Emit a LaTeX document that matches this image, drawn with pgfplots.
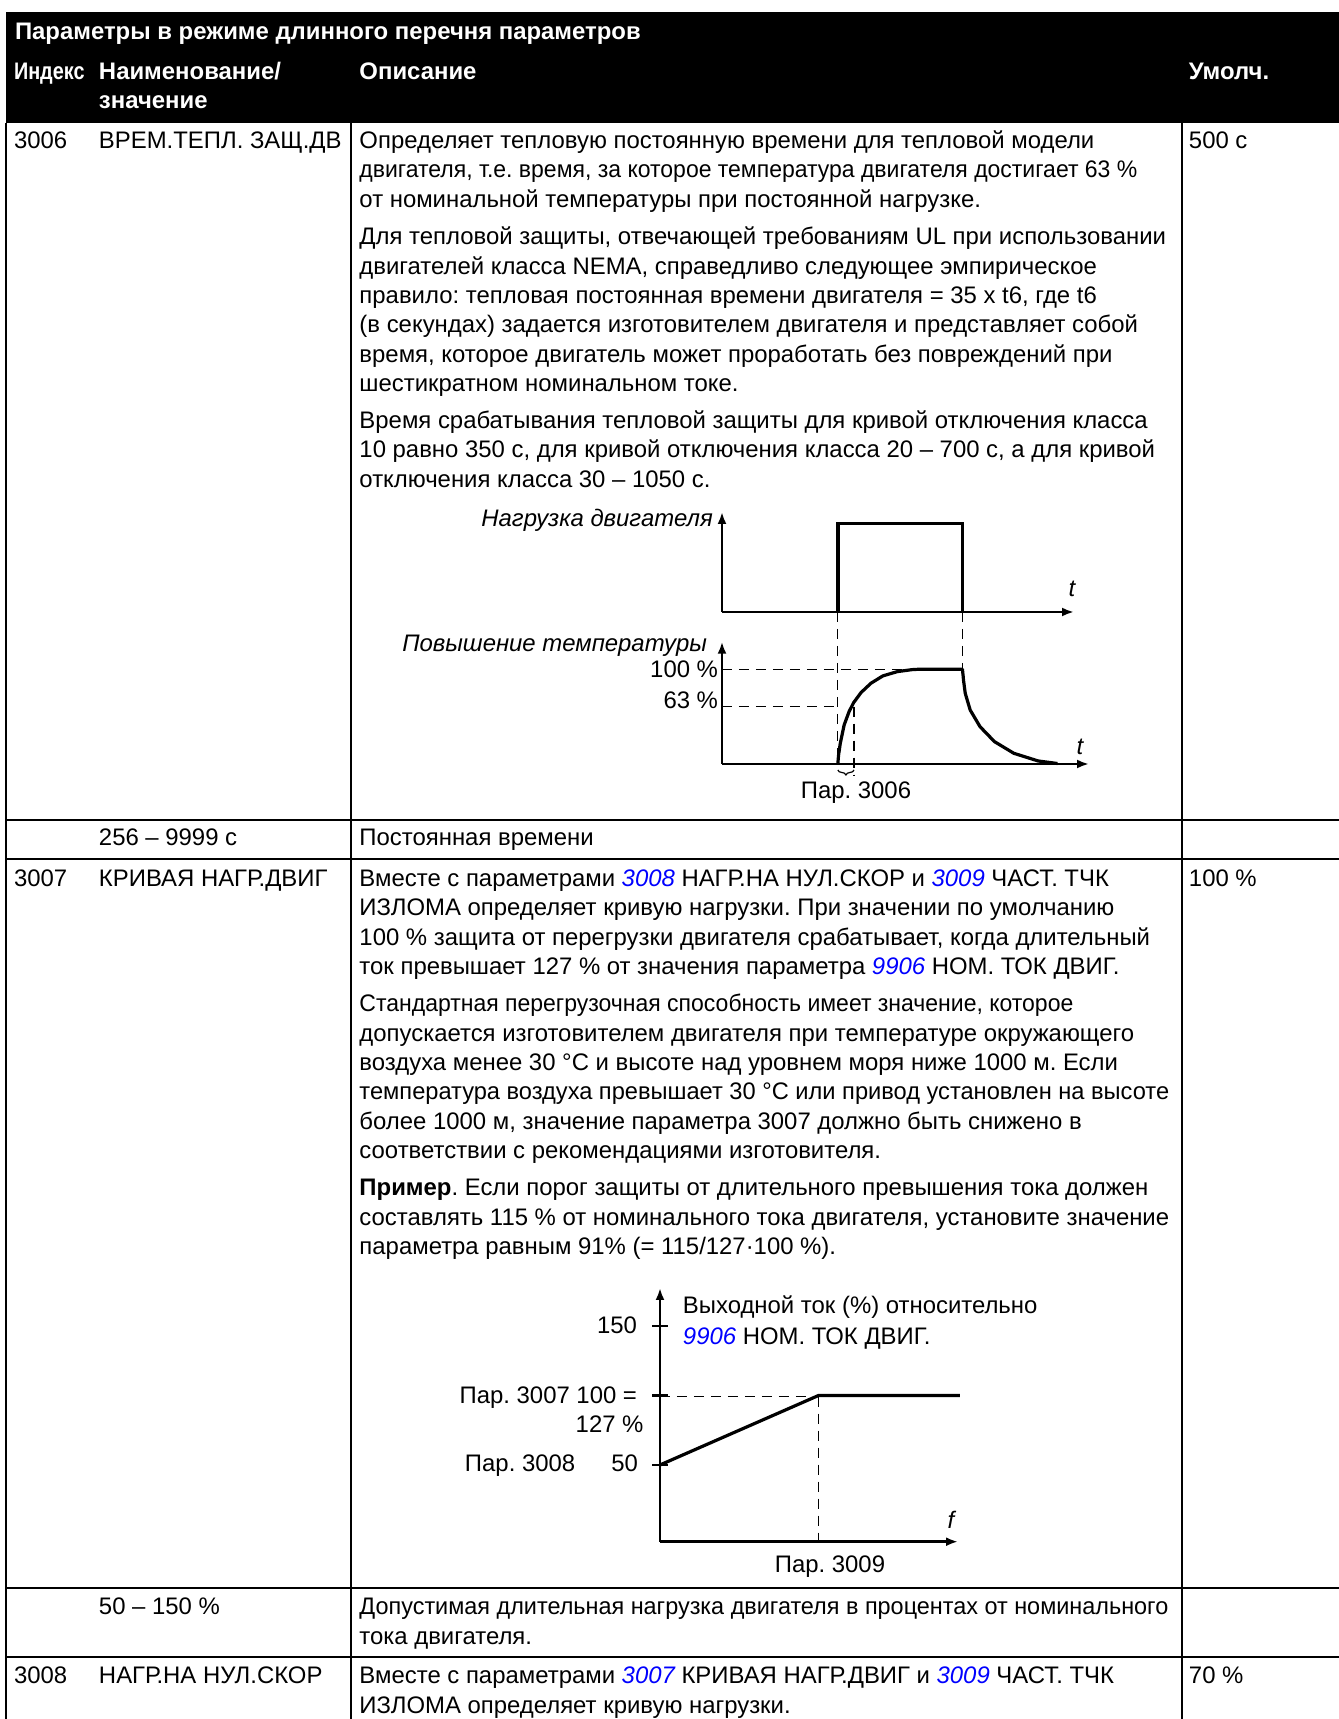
\documentclass[border=0pt]{standalone}
\usepackage{fontspec}
\setmainfont{Liberation Sans}
\usepackage{graphicx}
\usepackage{pgfplots}
\pgfplotsset{compat=1.18}
\usetikzlibrary{arrows.meta,decorations.pathreplacing}
\definecolor{lnk}{RGB}{0,0,255}
\newcommand{\lk}[1]{\textcolor{lnk}{\itshape #1}}
\newcommand{\F}{\fontsize{11.95bp}{14.3bp}\selectfont}
\tikzset{
 tx/.style={anchor=base west, inner sep=0pt, outer sep=0pt, font=\F},
 txr/.style={anchor=base east, inner sep=0pt, outer sep=0pt, font=\F},
 txc/.style={anchor=base, inner sep=0pt, outer sep=0pt, font=\F},
 px/.style={x=0.5bp, y=-0.5bp, yshift=859.5bp},
 dsh/.style={line width=0.6bp, dash pattern=on 5bp off 3.5bp},
 ar/.style={line width=1.2bp, -{Latex[length=6bp,width=4.5bp]}},
}
\begin{document}
\frenchspacing
\begin{tikzpicture}
\path[use as bounding box, fill=white] (0,0) rectangle (669.5bp,859.5bp);
\begin{scope}[px]
% header
\fill[black] (6,12) rectangle (1339,123);
\node[tx, text=white, font=\F\bfseries] at (15,40) {Параметры в режиме длинного перечня параметров};
\node[tx, text=white, font=\F\bfseries] at (14,80) {\scalebox{0.83}[1]{Индекс}};
\node[tx, text=white, font=\F\bfseries] at (99,80) {Наименование/};
\node[tx, text=white, font=\F\bfseries] at (99,109) {значение};
\node[tx, text=white, font=\F\bfseries] at (359.5,80) {Описание};
\node[tx, text=white, font=\F\bfseries] at (1189,80) {Умолч.};
% grid
\draw[line width=1bp] (6,123) -- (6,1719);
\draw[line width=1bp] (351.3,123) -- (351.3,1719);
\draw[line width=1bp] (1181.7,123) -- (1181.7,1719);
\draw[line width=1bp] (6,820) -- (1339,820);
\draw[line width=1bp] (6,859.5) -- (1339,859.5);
\draw[line width=1bp] (6,1588.3) -- (1339,1588.3);
\draw[line width=1bp] (6,1657.3) -- (1339,1657.3);
% row 3006
\node[tx] at (14,148.5) {3006};
\node[tx] at (99,148.5) {ВРЕМ.ТЕПЛ. ЗАЩ.ДВ};
\node[tx] at (1189,148.5) {500 с};
\node[tx] at (359.5,148.5) {Определяет тепловую постоянную времени для тепловой модели};
\node[tx] at (359.5,178) {\scalebox{0.962}[1]{двигателя, т.е. время, за которое температура двигателя достигает 63 \%}};
\node[tx] at (359.5,207.5) {от номинальной температуры при постоянной нагрузке.};
\node[tx] at (359.5,245) {Для тепловой защиты, отвечающей требованиям UL при использовании};
\node[tx] at (359.5,274.3) {двигателей класса NEMA, справедливо следующее эмпирическое};
\node[tx] at (359.5,303.6) {правило: тепловая постоянная времени двигателя = 35 x t6, где t6};
\node[tx] at (359.5,332.9) {(в секундах) задается изготовителем двигателя и представляет собой};
\node[tx] at (359.5,362.2) {время, которое двигатель может проработать без повреждений при};
\node[tx] at (359.5,391.5) {шестикратном номинальном токе.};
\node[tx] at (359.5,428.5) {Время срабатывания тепловой защиты для кривой отключения класса};
\node[tx] at (359.5,457.8) {10 равно 350 с, для кривой отключения класса 20 – 700 с, а для кривой};
\node[tx] at (359.5,487.1) {отключения класса 30 – 1050 с.};
% row range
\node[tx] at (99,846) {256 – 9999 с};
\node[tx] at (359.5,846) {Постоянная времени};
% row 3007
\node[tx] at (14,886.5) {3007};
\node[tx] at (99,886.5) {КРИВАЯ НАГР.ДВИГ};
\node[tx] at (1189,886.5) {100 \%};
\node[tx] at (359.5,886.5) {Вместе с параметрами \lk{3008} НАГР.НА НУЛ.СКОР и \lk{3009} ЧАСТ. ТЧК};
\node[tx] at (359.5,915.8) {ИЗЛОМА определяет кривую нагрузки. При значении по умолчанию};
\node[tx] at (359.5,945.1) {100 \% защита от перегрузки двигателя срабатывает, когда длительный};
\node[tx] at (359.5,974.4) {ток превышает 127 \% от значения параметра \lk{9906} НОМ. ТОК ДВИГ.};
\node[tx] at (359.5,1012) {\scalebox{0.962}[1]{Стандартная перегрузочная способность имеет значение, которое}};
\node[tx] at (359.5,1041.3) {допускается изготовителем двигателя при температуре окружающего};
\node[tx] at (359.5,1070.6) {воздуха менее 30 °C и высоте над уровнем моря ниже 1000 м. Если};
\node[tx] at (359.5,1099.9) {\scalebox{0.989}[1]{температура воздуха превышает 30 °C или привод установлен на высоте}};
\node[tx] at (359.5,1129.2) {более 1000 м, значение параметра 3007 должно быть снижено в};
\node[tx] at (359.5,1158.5) {соответствии с рекомендациями изготовителя.};
\node[tx] at (359.5,1196) {\textbf{Пример}. Если порог защиты от длительного превышения тока должен};
\node[tx] at (359.5,1225.3) {составлять 115 \% от номинального тока двигателя, установите значение};
\node[tx] at (359.5,1254.6) {параметра равным 91\% (= 115/127·100 \%).};
% row 50-150
\node[tx] at (99,1615) {50 – 150 \%};
\node[tx] at (359.5,1615) {\scalebox{0.98}[1]{Допустимая длительная нагрузка двигателя в процентах от номинального}};
\node[tx] at (359.5,1644.3) {тока двигателя.};
% row 3008
\node[tx] at (14,1684) {3008};
\node[tx] at (99,1684) {НАГР.НА НУЛ.СКОР};
\node[tx] at (1189,1684) {70 \%};
\node[tx] at (359.5,1684) {Вместе с параметрами \lk{3007} КРИВАЯ НАГР.ДВИГ и \lk{3009} ЧАСТ. ТЧК};
\node[tx] at (359.5,1713.3) {ИЗЛОМА определяет кривую нагрузки.};
\end{scope}

% ---- diagram 1: motor load
\begin{axis}[at={(361bp,553.5bp)}, anchor=south west, scale only axis,
  width=176bp, height=50bp, xmin=0, xmax=100, ymin=0, ymax=112.7,
  hide axis, clip=false]
\draw[ar] (axis cs:0,0) -- (axis cs:0,112.7);
\draw[ar] (axis cs:0,0) -- (axis cs:100,0);
\addplot[line width=1.7bp, line join=miter] coordinates {(32.9,0) (32.9,100) (68.3,100) (68.3,0)};
\end{axis}
% ---- diagram 1: temperature rise
\begin{axis}[at={(361bp,477.5bp)}, anchor=south west, scale only axis,
  width=183.5bp, height=61.15bp, xmin=0, xmax=104.26, ymin=0, ymax=129.1,
  hide axis, clip=false]
\draw[ar] (axis cs:0,0) -- (axis cs:0,129.1);
\draw[ar] (axis cs:0,0) -- (axis cs:104.26,0);
\addplot[line width=1.6bp, line join=round] coordinates {
 (32.9,0) (33.1,9) (33.6,21.8) (34.7,41.2) (36.1,55.3) (37.4,64.8) (39.5,75.4)
 (42.3,85.2) (45.7,93) (49.8,97.5) (54,99.6) (55.9,100) (68.3,100)
 (68.5,93) (68.6,88.7) (69.1,74.6) (70.5,57) (73.3,39.4) (77.4,23.6)
 (82.9,11.3) (89.8,3.2) (95.3,0.5)};
\draw[line width=0.6bp, decorate, decoration={brace, mirror, amplitude=2.5bp}]
  ([yshift=-3bp]axis cs:32.9,0) -- ([yshift=-3bp]axis cs:37.5,0);
\end{axis}
% ---- diagram 2: load curve
\begin{axis}[at={(330bp,88.65bp)}, anchor=south west, scale only axis,
  width=149bp, height=126.85bp, xmin=0, xmax=1.879, ymin=-5.2, ymax=177.3,
  hide axis, clip=false]
\draw[ar] (axis cs:0,-5.2) -- (axis cs:0,177.3);
\draw[ar] (axis cs:0,-5.2) -- (axis cs:1.879,-5.2);
\draw[line width=1.2bp] ([xshift=-3.9bp]axis cs:0,50) -- ([xshift=3.9bp]axis cs:0,50);
\draw[line width=1.2bp] ([xshift=-3.9bp]axis cs:0,100) -- ([xshift=3.9bp]axis cs:0,100);
\draw[line width=1.2bp] ([xshift=-3.9bp]axis cs:0,150) -- ([xshift=3.9bp]axis cs:0,150);
\addplot[line width=1.6bp] coordinates {(0,50) (1,100) (1.89,100)};
\end{axis}

\begin{scope}[px]
% diagram 1 annotations
\node[txr, font=\F\itshape] at (713,527) {Нагрузка двигателя};
\node[txc, font=\F\itshape] at (1072,597) {t};
\node[txr, font=\F\itshape] at (707,652) {Повышение температуры};
\node[txr] at (718,678) {100 \%};
\node[txr] at (718,709) {63 \%};
\node[txc, font=\F\itshape] at (1080,755) {t};
\node[txc] at (856,799) {Пар. 3006};
\draw[dsh] (722,669.3) -- (962.4,669.3);
\draw[dsh] (722,706.7) -- (837.8,706.7);
\draw[dsh] (837.8,612) -- (837.8,764);
\draw[dsh] (962.4,612) -- (962.4,669.3);
\draw[dsh] (854,706.7) -- (854,775);
% diagram 2 annotations
\node[txr] at (637,1333.5) {150};
\node[txr] at (637,1403.5) {Пар. 3007 100 =};
\node[txr] at (643.5,1433) {127 \%};
\node[tx] at (465,1471.5) {Пар. 3008};
\node[txr] at (638,1471.5) {50};
\node[tx] at (683,1314) {Выходной ток (\%) относительно};
\node[tx] at (683,1344.5) {\lk{9906} НОМ. ТОК ДВИГ.};
\node[txc, font=\F\itshape] at (951,1529) {f};
\node[txc] at (830,1573) {Пар. 3009};
\draw[dsh] (660,1396.7) -- (818.6,1396.7);
\draw[dsh] (818.6,1396.7) -- (818.6,1547);
\end{scope}
\end{tikzpicture}
\end{document}
